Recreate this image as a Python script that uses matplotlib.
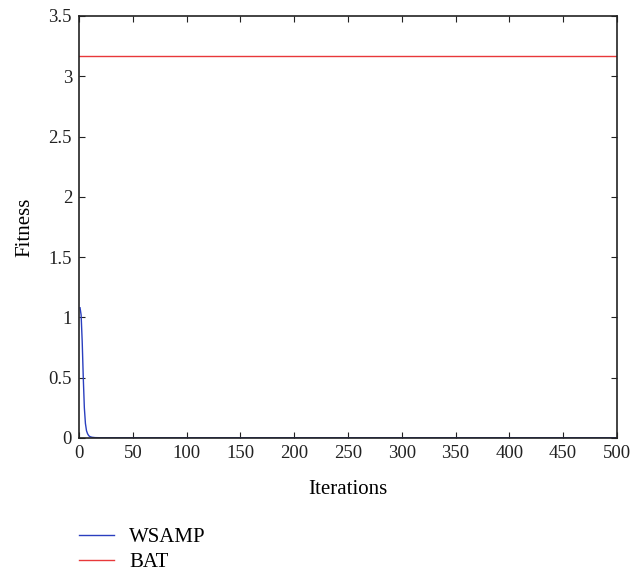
import matplotlib
matplotlib.use("Agg")
import matplotlib.pyplot as plt
from matplotlib.lines import Line2D

plt.rcParams['font.family'] = ['Liberation Serif', 'DejaVu Serif']

# data
wsamp_iter = [1, 2, 3, 4, 5, 6, 7, 8, 9, 10, 12, 15, 20, 500]
wsamp_fit = [1.08, 1.02, 0.80, 0.50, 0.25, 0.12, 0.06, 0.035, 0.02, 0.012, 0.006, 0.003, 0.002, 0.002]
bat_iter = [0, 500]
bat_fit = [3.168, 3.168]
xticks = [0, 50, 100, 150, 200, 250, 300, 350, 400, 450, 500]
yticks = [0, 0.5, 1, 1.5, 2, 2.5, 3, 3.5]
ytick_labels = ['0', '0.5', '1', '1.5', '2', '2.5', '3', '3.5']
series_names = ['WSAMP', 'BAT']
series_colors = ['#2a3fbf', '#e8383a']

fig = plt.figure(figsize=(6.41, 5.72), dpi=100)
ax = fig.add_axes([0.1232, 0.2343, 0.8393, 0.7378])
ax.plot(wsamp_iter, wsamp_fit, color=series_colors[0], lw=1.0)
ax.plot(bat_iter, bat_fit, color=series_colors[1], lw=1.0)
ax.set_xlim(0, 500)
ax.set_ylim(0, 3.5)
ax.set_xticks(xticks)
ax.set_yticks(yticks)
ax.set_yticklabels(ytick_labels)
ax.tick_params(direction='in', top=True, right=True, labelsize=13.5, length=4, width=0.8,
               colors='#222222', pad=5)
for s in ax.spines.values():
    s.set_linewidth(1.2)
    s.set_color('#222222')
ax.set_xlabel('Iterations', fontsize=15, labelpad=13)
ax.set_ylabel('Fitness', fontsize=15, labelpad=10)

# legend rows below the plot
row_y = [537, 562]
for name, col, yy in zip(series_names, series_colors, row_y):
    fig.legend([Line2D([], [], color=col, lw=1.0)], [name], loc='center left',
               bbox_to_anchor=(79 / 641, 1 - yy / 572), frameon=False, fontsize=15,
               handlelength=1.68, handletextpad=0.72, borderpad=0, borderaxespad=0)

fig.savefig('out.png', dpi=100)
